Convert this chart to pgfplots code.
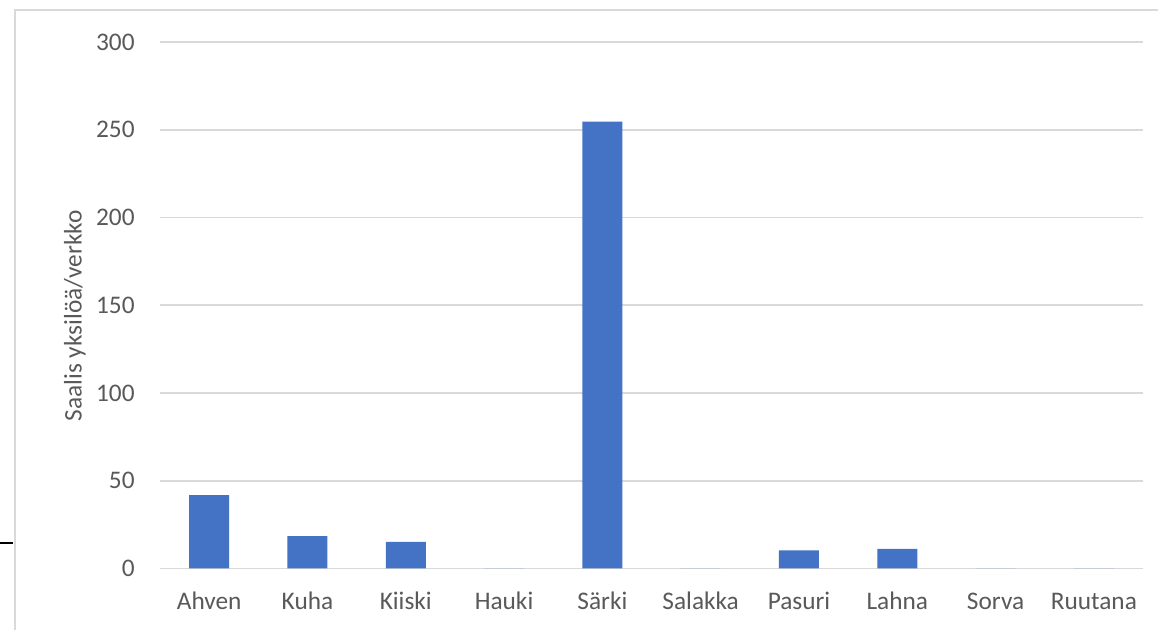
\documentclass[border=0pt]{standalone}
\usepackage{pgfplots}
\pgfplotsset{compat=1.18}
\usepackage{fontspec}
\setmainfont{Carlito}
\definecolor{barblue}{HTML}{4472C4}
\definecolor{txtgray}{HTML}{595959}
\definecolor{gridgray}{HTML}{D9D9D9}
\begin{document}
\begin{tikzpicture}[x=0.5bp,y=0.5bp]
\useasboundingbox (0,0) rectangle (1158,630);
\fill[white] (0,0) rectangle (1158,630);
\draw[gridgray, line width=1.2bp] (15,0) -- (15,620) -- (1158,620);
\draw[black, line width=0.6bp] (0,87) -- (13,87);
\begin{axis}[
  at={(80bp,30.75bp)}, anchor=south west,
  width=491.5bp, height=263.25bp, scale only axis,
  ymin=0, ymax=300, ytick={0,50,...,300},
  xmin=-0.5, xmax=9.5, xtick={0,...,9},
  xticklabels={Ahven,Kuha,Kiiski,Hauki,Särki,Salakka,Pasuri,Lahna,Sorva,Ruutana},
  ymajorgrids, xmajorgrids=false,
  grid style={gridgray, line width=0.9bp},
  axis line style={draw=none},
  major tick length=0pt,
  tick label style={font=\fontsize{12.7}{14}\selectfont, text=txtgray},
  /pgf/number format/assume math mode=true,
  yticklabel style={anchor=east, inner sep=0pt, xshift=-12.5bp},
  xticklabel style={anchor=north, inner sep=0pt, yshift=-11.5bp, text height=8.8bp, text depth=0pt},
  ylabel={Saalis yksilöä/verkko},
  ylabel style={at={(axis description cs:0,0.48)}, anchor=center, yshift=42.5bp,
    font=\fontsize{12.7}{14}\selectfont, text=txtgray},
  ybar, bar width=20bp,
]
\addplot[fill=barblue, draw=none] coordinates {
 (0,41.8) (1,18.4) (2,15.2) (3,0) (4,254.6) (5,0) (6,10.3) (7,11.2) (8,0) (9,0)
};
\end{axis}
\end{tikzpicture}
\end{document}
